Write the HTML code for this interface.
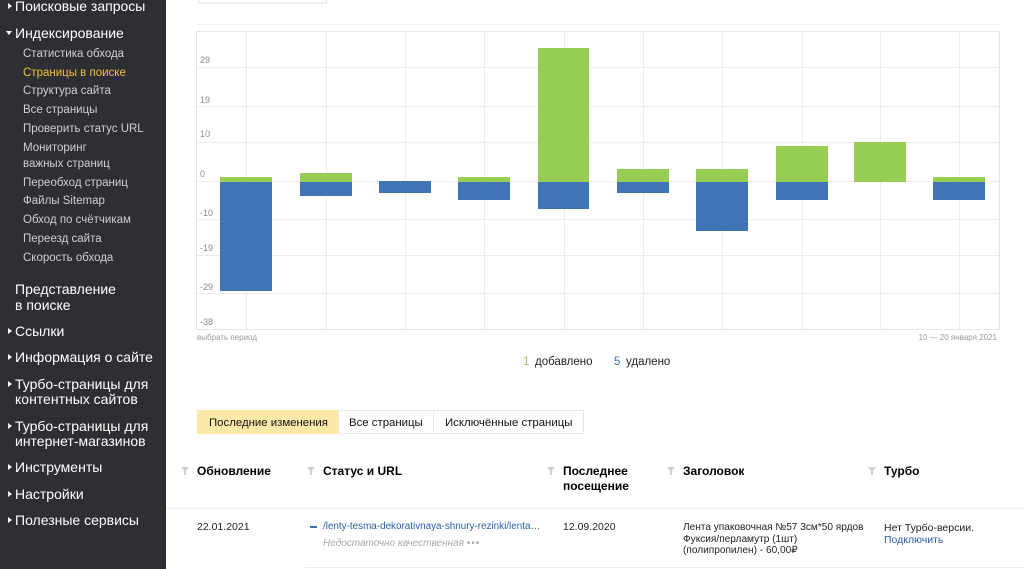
<!DOCTYPE html>
<html><head><meta charset="utf-8">
<style>
html,body{margin:0;padding:0;}
body{width:1024px;height:569px;overflow:hidden;background:#fff;position:relative;font-family:"Liberation Sans","Noto Sans CJK SC",sans-serif;}
.sb{position:absolute;left:0;top:0;width:166px;height:569px;background:#2e2f33;}
.t{position:absolute;white-space:nowrap;line-height:16px;}
.top{color:#fff;font-size:14px;left:15px;}
.sub{color:#cfcfcf;font-size:11.5px;left:23px;}
.tri{position:absolute;left:8px;width:0;height:0;border-top:3px solid transparent;border-bottom:3px solid transparent;border-left:4px solid #fff;}
.trid{position:absolute;left:6px;width:0;height:0;border-left:3px solid transparent;border-right:3px solid transparent;border-top:4px solid #fff;}
.h{font-weight:bold;font-size:12px;color:#000;}
.r{font-size:10.5px;color:#222;}
.f{position:absolute;width:0;height:0;border-left:4px solid transparent;border-right:4px solid transparent;border-top:5px solid #cfcfcf;}
.fs{position:absolute;width:2px;height:4px;background:#cfcfcf;}
</style></head><body>
<div class="sb">
  <div class="tri" style="top:3px"></div><div class="t top" style="top:-2px">Поисковые запросы</div>
  <div class="trid" style="top:31px"></div><div class="t top" style="top:25px">Индексирование</div>
  <div class="t sub" style="top:46px">Статистика обхода</div>
  <div class="t sub" style="top:65px;color:#f3c13f">Страницы в поиске</div>
  <div class="t sub" style="top:83px">Структура сайта</div>
  <div class="t sub" style="top:102px">Все страницы</div>
  <div class="t sub" style="top:121px">Проверить статус URL</div>
  <div class="t sub" style="top:140px">Мониторинг</div>
  <div class="t sub" style="top:156px">важных страниц</div>
  <div class="t sub" style="top:175px">Переобход страниц</div>
  <div class="t sub" style="top:193px">Файлы Sitemap</div>
  <div class="t sub" style="top:212px">Обход по счётчикам</div>
  <div class="t sub" style="top:231px">Переезд сайта</div>
  <div class="t sub" style="top:250px">Скорость обхода</div>
  <div class="t top" style="top:281px">Представление</div>
  <div class="t top" style="top:297px">в поиске</div>
  <div class="tri" style="top:328px"></div><div class="t top" style="top:323px">Ссылки</div>
  <div class="tri" style="top:354px"></div><div class="t top" style="top:349px">Информация о сайте</div>
  <div class="tri" style="top:381px"></div><div class="t top" style="top:376px">Турбо-страницы для</div>
  <div class="t top" style="top:391px">контентных сайтов</div>
  <div class="tri" style="top:423px"></div><div class="t top" style="top:418px">Турбо-страницы для</div>
  <div class="t top" style="top:433px">интернет-магазинов</div>
  <div class="tri" style="top:464px"></div><div class="t top" style="top:459px">Инструменты</div>
  <div class="tri" style="top:491px"></div><div class="t top" style="top:486px">Настройки</div>
  <div class="tri" style="top:517px"></div><div class="t top" style="top:512px">Полезные сервисы</div>
</div>

<svg style="position:absolute;left:0;top:0" width="1024" height="569" viewBox="0 0 1024 569" font-family="Liberation Sans, sans-serif">
  <rect x="198.5" y="-10" width="128" height="13" fill="#fff" stroke="#e2e2e2"/>
  <line x1="196" y1="24.5" x2="1000" y2="24.5" stroke="#f3f3f3"/>
  <rect x="196.5" y="31.5" width="803" height="298" fill="#fff" stroke="#e6e6e6"/>
  <g stroke="#ececec" stroke-width="1">
    <line x1="197" y1="67.5" x2="999" y2="67.5"/>
    <line x1="197" y1="106.5" x2="999" y2="106.5"/>
    <line x1="197" y1="142.5" x2="999" y2="142.5"/>
    <line x1="197" y1="181.5" x2="999" y2="181.5"/>
    <line x1="197" y1="219.5" x2="999" y2="219.5"/>
    <line x1="197" y1="255.5" x2="999" y2="255.5"/>
    <line x1="197" y1="293.5" x2="999" y2="293.5"/>
    <line x1="246.5" y1="32" x2="246.5" y2="329"/>
    <line x1="326.5" y1="32" x2="326.5" y2="329"/>
    <line x1="405.5" y1="32" x2="405.5" y2="329"/>
    <line x1="484.5" y1="32" x2="484.5" y2="329"/>
    <line x1="564.5" y1="32" x2="564.5" y2="329"/>
    <line x1="643.5" y1="32" x2="643.5" y2="329"/>
    <line x1="722.5" y1="32" x2="722.5" y2="329"/>
    <line x1="802.5" y1="32" x2="802.5" y2="329"/>
    <line x1="880.5" y1="32" x2="880.5" y2="329"/>
    <line x1="959.5" y1="32" x2="959.5" y2="329"/>
  </g>
  <g font-size="9" fill="#8a8a8a">
    <text x="200" y="63">29</text>
    <text x="200" y="103">19</text>
    <text x="200" y="137">10</text>
    <text x="200" y="177">0</text>
    <text x="200" y="216">-10</text>
    <text x="200" y="251">-19</text>
    <text x="200" y="290">-29</text>
    <text x="200" y="325">-38</text>
  </g>
  <g fill="#98cd55">
    <rect x="220" y="177" width="52" height="5"/>
    <rect x="300" y="173" width="52" height="9"/>
    <rect x="458" y="177" width="52" height="5"/>
    <rect x="538" y="48" width="51" height="134"/>
    <rect x="617" y="169" width="52" height="13"/>
    <rect x="696" y="169" width="52" height="13"/>
    <rect x="776" y="146" width="52" height="36"/>
    <rect x="854" y="142" width="52" height="40"/>
    <rect x="933" y="177" width="52" height="5"/>
  </g>
  <g fill="#3f74b7">
    <rect x="220" y="182" width="52" height="109"/>
    <rect x="300" y="182" width="52" height="14"/>
    <rect x="379" y="181" width="52" height="12"/>
    <rect x="458" y="182" width="52" height="18"/>
    <rect x="538" y="182" width="51" height="27"/>
    <rect x="617" y="182" width="52" height="11"/>
    <rect x="696" y="182" width="52" height="49"/>
    <rect x="776" y="182" width="52" height="18"/>
    <rect x="933" y="182" width="52" height="18"/>
  </g>
  <text x="197" y="340" font-size="8" fill="#9a9a9a">выбрать период</text>
  <text x="997" y="340" font-size="8" fill="#9a9a9a" text-anchor="end">10 — 20 января 2021</text>
  <text x="523" y="365" font-size="11.5" fill="#98cd55">1</text>
  <text x="535" y="365" font-size="11.5" fill="#222">добавлено</text>
  <text x="614" y="365" font-size="11.5" fill="#3f74b7">5</text>
  <text x="626" y="365" font-size="11.5" fill="#222">удалено</text>

  <rect x="197" y="410" width="141" height="24" fill="#fce9a8"/>
  <rect x="338.5" y="410.5" width="95" height="23" fill="#fff" stroke="#e8e8e8"/>
  <rect x="433.5" y="410.5" width="150" height="23" fill="#fff" stroke="#e8e8e8"/>
  <g font-size="11.4" fill="#111">
    <text x="209" y="426">Последние изменения</text>
    <text x="349" y="426">Все страницы</text>
    <text x="445" y="426">Исключённые страницы</text>
  </g>
  <line x1="166" y1="508.5" x2="1024" y2="508.5" stroke="#ececec"/>
  <line x1="305" y1="567.5" x2="1024" y2="567.5" stroke="#ececec"/>
</svg>

<div class="f" style="left:181px;top:467px"></div><div class="fs" style="left:184px;top:471px"></div>
<div class="f" style="left:307px;top:467px"></div><div class="fs" style="left:310px;top:471px"></div>
<div class="f" style="left:547px;top:467px"></div><div class="fs" style="left:550px;top:471px"></div>
<div class="f" style="left:667px;top:467px"></div><div class="fs" style="left:670px;top:471px"></div>
<div class="f" style="left:868px;top:467px"></div><div class="fs" style="left:871px;top:471px"></div>

<div class="t h" style="left:197px;top:463px">Обновление</div>
<div class="t h" style="left:323px;top:463px">Статус и URL</div>
<div class="t h" style="left:563px;top:463px">Последнее</div>
<div class="t h" style="left:563px;top:478px">посещение</div>
<div class="t h" style="left:683px;top:463px">Заголовок</div>
<div class="t h" style="left:884px;top:463px">Турбо</div>

<div class="t r" style="left:197px;top:519px">22.01.2021</div>
<div style="position:absolute;left:310px;top:526px;width:7px;height:2px;background:#3a6fb0"></div>
<div class="t r" style="left:323px;top:519px;color:#2a5ea6;font-size:9.9px">/lenty-tesma-dekorativnaya-shnury-rezinki/lenta…</div>
<div class="t r" style="left:323px;top:536px;color:#a8a8a8;font-style:italic;font-size:10px">Недостаточно качественная <span style="font-style:normal;letter-spacing:1px">•••</span></div>
<div class="t r" style="left:563px;top:519px">12.09.2020</div>
<div class="t r" style="left:683px;top:522px;line-height:11.5px;font-size:10.1px">Лента упаковочная №57 3см*50 ярдов<br>Фуксия/перламутр (1шт)<br>(полипропилен) - 60,00₽</div>
<div class="t r" style="left:884px;top:522px;line-height:12px">Нет Турбо-версии.<br><span style="color:#2a5ea6">Подключить</span></div>
</body></html>
